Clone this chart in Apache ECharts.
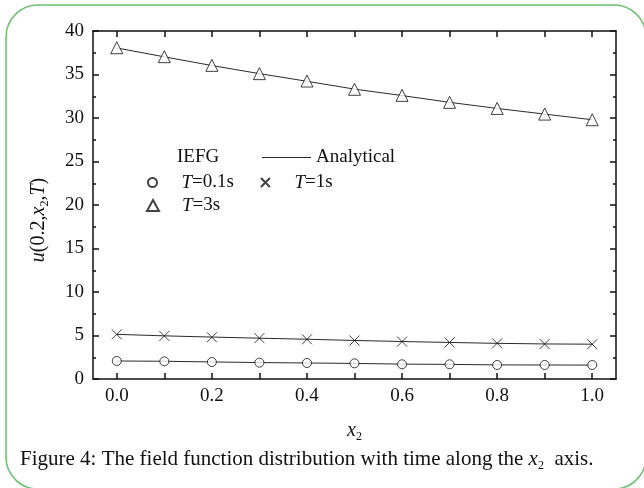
<!DOCTYPE html>
<html>
<head>
<meta charset="utf-8">
<script src="https://cdn.jsdelivr.net/npm/echarts@6/dist/echarts.min.js"></script>
<style>
  html, body { margin: 0; padding: 0; background: #fff; }
  #chart-wrap { width: 644px; height: 488px; }
</style>
</head>
<body>
<div id="chart-wrap"></div>
<script>
// x2 positions
var x2Values = [0.0, 0.1, 0.2, 0.3, 0.4, 0.5, 0.6, 0.7, 0.8, 0.9, 1.0];
var xLabelValues = [0.0, 0.2, 0.4, 0.6, 0.8, 1.0];
var yTickLabels = [0, 5, 10, 15, 20, 25, 30, 35, 40];

// IEFG results
var iefgT01 = [2.07, 2.03, 1.95, 1.88, 1.84, 1.80, 1.69, 1.69, 1.61, 1.61, 1.61];
var iefgT1 = [5.13, 4.95, 4.80, 4.70, 4.56, 4.42, 4.30, 4.20, 4.10, 4.02, 4.00];
var iefgT3 = [38.08, 37.05, 36.05, 35.10, 34.25, 33.30, 32.60, 31.80, 31.10, 30.45, 29.80];

// analytical solution
var exactT01 = [2.07, 2.04, 1.96, 1.89, 1.84, 1.79, 1.71, 1.68, 1.62, 1.61, 1.60];
var exactT1 = [5.13, 4.96, 4.82, 4.69, 4.57, 4.43, 4.31, 4.20, 4.10, 4.03, 4.00];
var exactT3 = [38.05, 37.03, 36.03, 35.10, 34.22, 33.32, 32.58, 31.80, 31.10, 30.45, 29.80];

var serif = 'Liberation Serif';
var crossPath = 'path://M0,0L10,10M10,0L0,10';
var ink = '#111';

function pairs(ys) {
    return x2Values.map(function (x, i) { return [x, ys[i]]; });
}

function lineSeries(ys) {
    return {
        name: 'Analytical',
        type: 'line',
        symbol: 'none',
        data: pairs(ys),
        lineStyle: { color: '#2a2a2a', width: 1 },
        itemStyle: { color: '#2a2a2a' },
        z: 2
    };
}

function markSeries(name, ys, symbol, size) {
    return {
        name: name,
        type: 'scatter',
        symbol: symbol,
        symbolSize: size,
        data: pairs(ys),
        itemStyle: { color: '#fff', borderColor: ink, borderWidth: 1 },
        z: 3
    };
}

function txt(size, italic) {
    return { fontFamily: serif, fontSize: size, fontStyle: italic ? 'italic' : 'normal', fontWeight: 'normal', color: ink };
}

var legendText = Object.assign(txt(19), {
    padding: [0, 0, 0, 19],
    rich: { i: txt(19, true), n: txt(19) }
});

function tName(name) {
    return '{i|T}{n|' + name.slice(1) + '}';
}

var xAxisBase = {
    type: 'value',
    min: -0.05,
    max: 1.05,
    axisLine: { show: true, onZero: false, lineStyle: { color: ink, width: 1.5 } },
    axisTick: { inside: true, length: 6, customValues: x2Values, lineStyle: { color: ink, width: 1.5 } },
    splitLine: { show: false }
};

var yAxisBase = {
    type: 'value',
    min: 0,
    max: 40,
    interval: 5,
    axisLine: { show: true, onZero: false, lineStyle: { color: ink, width: 1.5 } },
    axisTick: { inside: true, length: 6, lineStyle: { color: ink, width: 1.5 } },
    minorTick: { show: true, splitNumber: 2, length: 3, lineStyle: { color: ink, width: 1.5 } },
    splitLine: { show: false }
};

var subStyle = Object.assign(txt(12), { padding: [13, 0, 0, 0] });

var chart = echarts.init(document.getElementById('chart-wrap'), null, { renderer: 'canvas' });

var option = {
    animation: false,
    backgroundColor: '#fff',
    title: {
        left: 20,
        top: 447,
        padding: 0,
        text: '{n|Figure 4: The field function distribution with time along the }{i|x}{s|2}{n|  axis.}',
        textStyle: {
            fontWeight: 'normal',
            rich: { n: txt(21), i: txt(21, true), s: subStyle }
        }
    },
    grid: { left: 93, right: 28, top: 31, bottom: 109 },
    legend: [
        {
            data: ['Analytical'],
            icon: 'rect',
            left: 257, top: 143,
            itemWidth: 49, itemHeight: 1,
            textStyle: txt(19)
        },
        {
            data: ['T=0.1s', 'T=1s'],
            left: 142, top: 168,
            itemWidth: 10, itemHeight: 9, itemGap: 26,
            formatter: tName,
            textStyle: legendText
        },
        {
            data: ['T=3s'],
            left: 141, top: 191,
            itemWidth: 12, itemHeight: 11,
            formatter: tName,
            textStyle: Object.assign({}, legendText, { padding: [0, 0, 0, 18] })
        }
    ],
    graphic: [
        {
            type: 'rect',
            shape: { x: 6, y: 5, width: 640, height: 484, r: 32 },
            style: { fill: 'none', stroke: '#6cc070', lineWidth: 1.5 },
            silent: true
        },
        {
            type: 'text',
            left: 177, top: 148,
            style: { text: 'IEFG', font: '19px "Liberation Serif"', fill: ink }
        }
    ],
    xAxis: [
        Object.assign({}, xAxisBase, {
            position: 'bottom',
            name: '{i|x}{s|2}',
            nameLocation: 'middle',
            nameGap: 39,
            nameTextStyle: { rich: { i: txt(20, true), s: subStyle } },
            axisLabel: {
                customValues: xLabelValues,
                margin: 8,
                fontFamily: serif, fontSize: 19, color: ink,
                formatter: function (v) { return v.toFixed(1); }
            }
        }),
        Object.assign({}, xAxisBase, { position: 'top', axisLabel: { show: false } })
    ],
    yAxis: [
        Object.assign({}, yAxisBase, {
            position: 'left',
            name: '{i|u}{n|(0.2,}{i|x}{s|2}{n|,}{i|T}{n|)}',
            nameLocation: 'middle',
            nameGap: 42,
            nameRotate: 90,
            nameTextStyle: {
                padding: [0, 30, 0, 0],
                rich: { i: txt(20, true), n: txt(20), s: subStyle }
            },
            axisLabel: {
                margin: 9,
                fontFamily: serif, fontSize: 19, color: ink,
                customValues: yTickLabels
            }
        }),
        Object.assign({}, yAxisBase, { position: 'right', axisLabel: { show: false } })
    ],
    series: [
        lineSeries(exactT01),
        lineSeries(exactT1),
        lineSeries(exactT3),
        markSeries('T=0.1s', iefgT01, 'circle', 9),
        markSeries('T=1s', iefgT1, crossPath, 10),
        markSeries('T=3s', iefgT3, 'triangle', 12)
    ]
};

chart.setOption(option);
</script>
</body>
</html>
